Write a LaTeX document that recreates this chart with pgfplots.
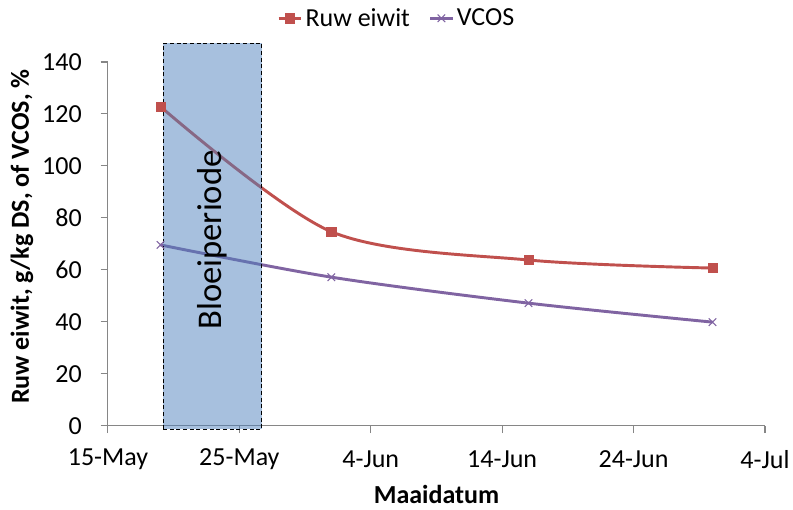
\documentclass[border=0pt]{standalone}
\usepackage{pgfplots}
\pgfplotsset{compat=1.18}
\usepackage{fontspec}
\setmainfont{Carlito}
\definecolor{ruw}{HTML}{C0504D}
\definecolor{vcos}{HTML}{8064A2}
\definecolor{bloei}{HTML}{4F81BD}
\definecolor{axgray}{HTML}{868686}

\begin{document}
\begin{tikzpicture}
\begin{axis}[
    scale only axis,
    width=493pt, height=273pt,
    xmin=0, xmax=50, ymin=0, ymax=140,
    axis lines*=left,
    axis line style={axgray, line width=0.8pt},
    xtick={0,10,20,30,40,50},
    xticklabels={15-May,25-May,4-Jun,14-Jun,24-Jun,4-Jul},
    ytick={0,20,...,140},
    tick align=outside,
    major tick length=5.5pt,
    tick style={axgray, line width=0.8pt},
    ticklabel style={font=\fontsize{19.5}{21}\selectfont, inner sep=0pt},
    /pgf/number format/assume math mode=true,
    xticklabel style={anchor=center, yshift=-19.5pt},
    yticklabel style={anchor=east, xshift=-14pt},
    xlabel={\textbf{Maaidatum}},
    ylabel={\textbf{Ruw eiwit, g/kg DS, of VCOS, \%}},
    label style={font=\fontsize{19.5}{21}\selectfont},
    xlabel style={at={(axis description cs:0.5,-0.19)}, anchor=center},
    ylabel style={at={(axis description cs:-0.131,0.52)}, anchor=center},
    clip=false,
    legend columns=2,
    legend style={draw=none, at={(rel axis cs:0.44,1.12)}, anchor=center,
        font=\fontsize{19.5}{21}\selectfont,
        /tikz/every even column/.append style={column sep=12pt}},
    legend image code/.code={
        \draw[#1, mark repeat=2, mark phase=2] plot coordinates {(0cm,0cm) (0.3cm,0cm) (0.6cm,0cm)};},
]
\addplot[ruw, line width=2.2pt, smooth, mark=square*, mark size=3.4pt,
    mark options={solid, line width=0.5pt}]
    coordinates {(4,122.8) (17,74.7) (32,63.8) (46,60.7)};
\addlegendentry{Ruw eiwit}
\addplot[vcos, line width=2.2pt, smooth, mark=x, mark size=4pt,
    mark options={solid, line width=0.8pt}]
    coordinates {(4,69.6) (17,57.2) (32,47.2) (46,39.9)};
\addlegendentry{VCOS}

\fill[bloei, fill opacity=0.5] (axis cs:4.2,-1.4) rectangle (axis cs:11.7,147.3);
\draw[black, densely dashed, line width=0.6pt] (axis cs:4.2,-1.4) rectangle (axis cs:11.7,147.3);
\node[rotate=90, font=\fontsize{26}{28}\selectfont, anchor=center]
    at (axis cs:7.95,71.5) {Bloeiperiode};
\end{axis}
\pgfresetboundingbox
\path[use as bounding box] (-81pt,-63pt) rectangle (514pt,319.5pt);
\end{tikzpicture}
\end{document}
